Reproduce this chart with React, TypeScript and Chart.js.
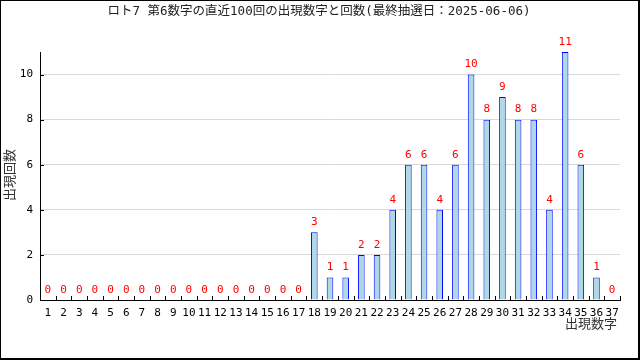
import React, { useEffect, useRef } from "react";
import { Chart, registerables } from "chart.js";

Chart.register(...registerables);

const TITLE = "ロト7 第6数字の直近100回の出現数字と回数(最終抽選日：2025-06-06)";
const X_TITLE = "出現数字";
const Y_TITLE = "出現回数";
const categories: string[] = [
  "1","2","3","4","5","6","7","8","9","10","11","12","13","14","15","16","17","18","19",
  "20","21","22","23","24","25","26","27","28","29","30","31","32","33","34","35","36","37",
];
const counts: number[] = [
  0,0,0,0,0,0,0,0,0,0,0,0,0,0,0,0,0,3,1,
  1,2,2,4,6,6,4,6,10,8,9,8,8,4,11,6,1,0,
];
const yTicks: number[] = [0, 2, 4, 6, 8, 10];

const FONT = "'DejaVu Sans Mono', 'Noto Sans CJK JP', monospace";

const decor = {
  id: "decor",
  afterDatasetsDraw(chart: any) {
    const ctx = chart.ctx;
    const x = chart.scales.x;
    const y = chart.scales.y;
    ctx.save();
    const step = x.getPixelForValue(1) - x.getPixelForValue(0);
    ctx.strokeStyle = "#000";
    ctx.lineWidth = 1;
    ctx.beginPath();
    for (let i = 0; i <= categories.length; i++) {
      const px = i < categories.length
        ? x.getPixelForValue(i) - step / 2
        : x.getPixelForValue(i - 1) + step / 2;
      const rx = Math.round(px) + 0.5;
      ctx.moveTo(rx, y.bottom);
      ctx.lineTo(rx, y.bottom - 4);
    }
    yTicks.forEach((v) => {
      const py = Math.round(y.getPixelForValue(v)) + 0.5;
      ctx.moveTo(x.left, py);
      ctx.lineTo(x.left + 4, py);
    });
    ctx.stroke();
    ctx.fillStyle = "#ff0000";
    ctx.font = "11px " + FONT;
    ctx.textAlign = "center";
    ctx.textBaseline = "middle";
    counts.forEach((v, i) => {
      ctx.fillText(String(v), x.getPixelForValue(i), y.getPixelForValue(v) - 10);
    });
    ctx.fillStyle = "#222";
    ctx.font = "12.5px " + FONT;
    ctx.fillText(TITLE, 319, 12);
    ctx.fillStyle = "#333";
    ctx.font = "13px " + FONT;
    ctx.textAlign = "right";
    ctx.fillText(X_TITLE, 617, 325);
    ctx.translate(11, 175);
    ctx.rotate(-Math.PI / 2);
    ctx.textAlign = "center";
    ctx.fillText(Y_TITLE, 0, 0);
    ctx.restore();
  },
};

export default function App() {
  const ref = useRef<HTMLCanvasElement>(null);
  useEffect(() => {
    document.body.style.margin = "0";
    const chart = new Chart(ref.current!, {
      type: "bar",
      data: {
        labels: categories,
        datasets: [
          {
            data: counts,
            backgroundColor: "#add8e6",
            borderColor: "#0000ff",
            borderWidth: 1,
            barPercentage: 0.42,
            categoryPercentage: 1,
          },
        ],
      },
      options: {
        animation: false,
        responsive: false,
        layout: { padding: { top: 52, right: 20, left: 0, bottom: 0 } },
        plugins: { legend: { display: false }, tooltip: { enabled: false }, title: { display: false } },
        scales: {
          x: {
            grid: { display: false, drawTicks: false },
            border: { display: true, color: "#000", width: 1 },
            ticks: { color: "#000", font: { family: FONT, size: 11 }, padding: 7, autoSkip: false, maxRotation: 0 },
            afterFit: (s: any) => { s.height = 60; },
          },
          y: {
            min: 0,
            max: 11,
            grid: { color: (c: any) => (c.tick && c.tick.value === 0 ? "rgba(0,0,0,0)" : "#d9d9d9"), drawTicks: false },
            border: { display: true, color: "#000", width: 1 },
            ticks: { stepSize: 2, includeBounds: false, color: "#000", font: { family: FONT, size: 11 }, padding: 7 },
            afterFit: (s: any) => { s.width = 40; },
          },
        },
      },
      plugins: [decor],
    });
    return () => chart.destroy();
  }, []);
  return (
    <div style={{ position: "relative", width: 640, height: 360 }}>
      <canvas ref={ref} width={640} height={360} style={{ display: "block" }} />
      <div style={{ position: "absolute", left: 0, top: 0, width: 640, height: 360, boxSizing: "border-box", border: "1px solid #000", borderRightWidth: 2, borderBottomWidth: 2, pointerEvents: "none" }} />
    </div>
  );
}
